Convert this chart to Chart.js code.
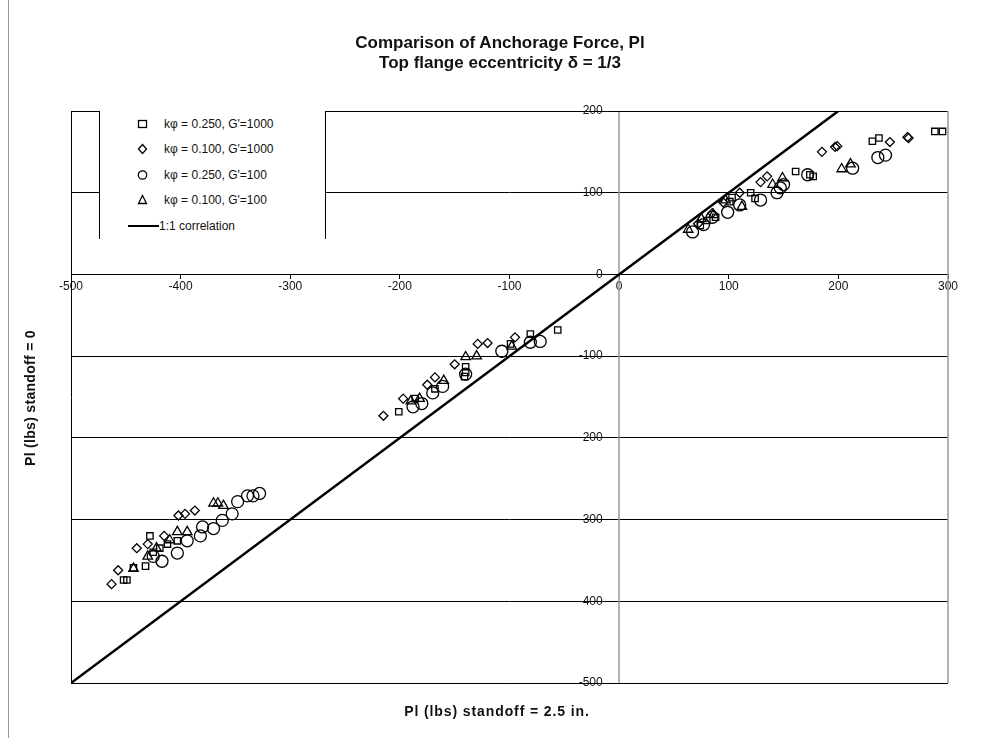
<!DOCTYPE html>
<html>
<head>
<meta charset="utf-8">
<script src="https://cdn.jsdelivr.net/npm/chart.js@4/dist/chart.umd.min.js"></script>
<style>
body{margin:0;background:#fff;font-family:"Liberation Sans",Arial,sans-serif;color:#111;}
#wrap{position:relative;width:984px;height:738px;overflow:hidden;}
#chart{position:absolute;left:0;top:0;}
#edge{position:absolute;left:8px;top:0;width:0;height:738px;border-left:1px solid #999;}
.title{position:absolute;left:250px;width:500px;text-align:center;font-weight:bold;font-size:17px;line-height:20px;}
#xTitle{position:absolute;left:297px;width:400px;top:703px;text-align:center;font-weight:bold;font-size:14px;letter-spacing:0.9px;}
#yTitle{position:absolute;left:-70px;top:390px;width:200px;text-align:center;font-weight:bold;font-size:14px;letter-spacing:0.3px;transform:rotate(-90deg);}
#legend{position:absolute;left:99px;top:111px;width:225px;height:128px;background:#fff;border-left:1px solid #000;border-right:1px solid #000;}
.item{position:absolute;left:0;height:16px;font-size:12px;white-space:nowrap;}
.item svg{position:absolute;left:34px;top:0;}
.item span{position:absolute;left:64px;top:0;line-height:16px;}
</style>
</head>
<body>
<div id="wrap">
  <div id="edge"></div>
  <canvas id="chart" width="984" height="738"></canvas>
  <div class="title" style="top:33px">Comparison of Anchorage Force, Pl</div>
  <div class="title" style="top:53px">Top flange eccentricity &delta; = 1/3</div>
  <div id="xTitle">Pl (lbs) standoff = 2.5 in.</div>
  <div id="yTitle">Pl (lbs) standoff = 0</div>
  <div id="legend"></div>
</div>
<script>
// ================== DATA ==================
const seriesNames = ["k\u03c6 = 0.250, G'=1000", "k\u03c6 = 0.100, G'=1000", "k\u03c6 = 0.250, G'=100", "k\u03c6 = 0.100, G'=100", "1:1 correlation"];

// squares: k=0.250, G'=1000
const sqX = [295, 288, 237, 231, 177, 174, 161, 124, 120, 101, 103, 88, 80, 74,
  -56, -81, -99, -140, -140, -141, -168, -186, -201,
  -452, -449, -443, -432, -419, -412, -403, -425, -428];
const sqY = [175, 175, 167, 163, 120, 122, 126, 93, 100, 89, 94, 70, 66, 60,
  -68, -73, -85, -113, -120, -125, -140, -152, -168,
  -374, -374, -359, -357, -335, -330, -326, -340, -320];

// diamonds: k=0.100, G'=1000
const dmX = [263, 264, 247, 199, 197, 185, 135, 129, 110, 95, 85, 72,
  -95, -120, -129, -150, -168, -175, -197, -215,
  -463, -457, -440, -430, -402, -396, -387, -415];
const dmY = [168, 167, 162, 157, 156, 150, 120, 113, 100, 88, 75, 62,
  -77, -84, -85, -110, -126, -135, -152, -173,
  -379, -362, -335, -330, -295, -293, -289, -320];

// circles: k=0.250, G'=100
const ciX = [243, 236, 213, 172, 150, 147, 144, 129, 110, 99, 85, 77, 67,
  -72, -81, -107, -140, -161, -170, -188, -180,
  -328, -334, -339, -348, -353, -362, -370, -380, -382, -394, -403, -417, -425];
const ciY = [146, 143, 130, 122, 110, 106, 100, 91, 85, 76, 70, 61, 52,
  -82, -83, -94, -122, -137, -145, -162, -158,
  -268, -271, -271, -278, -293, -301, -311, -309, -320, -326, -341, -351, -345];

// triangles: k=0.100, G'=100
const trX = [211, 203, 149, 140, 112, 97, 86, 75, 63,
  -98, -130, -140, -160, -182, -190,
  -361, -366, -370, -394, -403, -410, -422, -443, -430];
const trY = [135, 129, 118, 110, 83, 91, 73, 68, 55,
  -88, -100, -101, -130, -152, -155,
  -283, -280, -280, -315, -315, -325, -335, -360, -345];

// 1:1 line
const lineX = [-500, 200];
const lineY = [-500, 200];

const xTicks = [-500, -400, -300, -200, -100, 0, 100, 200, 300];
const yTicks = [200, 100, 0, -100, -200, -300, -400, -500];

// ================== HELPERS ==================
function pts(xs, ys){
  return xs.map((x, i) => ({x, y: ys[i]}));
}

const markerStyles = ['rect', 'rectRot', 'circle', 'triangle'];
const markerSizes = [4.5, 4.5, 6, 5.5];

// plot frame: black left/top/bottom, grey right, grey vertical axis at x=0
const framePlugin = {
  id: 'frame',
  beforeDatasetsDraw(c){
    const a = c.chartArea, ctx = c.ctx;
    const x0 = Math.round(c.scales.x.getPixelForValue(0));
    ctx.save();
    ctx.strokeStyle = '#999';
    ctx.lineWidth = 1.5;
    ctx.beginPath();
    ctx.moveTo(x0, a.top);
    ctx.lineTo(x0, a.bottom);
    ctx.stroke();
    ctx.restore();
  },
  afterDraw(c){
    const a = c.chartArea, ctx = c.ctx;
    ctx.save();
    ctx.lineWidth = 1;
    ctx.strokeStyle = '#000';
    ctx.beginPath();
    ctx.moveTo(a.right, a.top + 0.5);
    ctx.lineTo(a.left + 0.5, a.top + 0.5);
    ctx.lineTo(a.left + 0.5, a.bottom + 0.5);
    ctx.lineTo(a.right, a.bottom + 0.5);
    ctx.stroke();
    ctx.strokeStyle = '#999';
    ctx.lineWidth = 1.5;
    ctx.beginPath();
    ctx.moveTo(a.right, a.top);
    ctx.lineTo(a.right, a.bottom);
    ctx.stroke();
    ctx.restore();
  }
};

// ================== CHART ==================
const datasets = [
  {label: seriesNames[0], data: pts(sqX, sqY)},
  {label: seriesNames[1], data: pts(dmX, dmY)},
  {label: seriesNames[2], data: pts(ciX, ciY)},
  {label: seriesNames[3], data: pts(trX, trY)}
].map((d, i) => Object.assign(d, {
  pointStyle: markerStyles[i],
  pointRadius: markerSizes[i],
  pointBorderColor: '#000',
  pointBackgroundColor: 'rgba(255,255,255,0)',
  pointBorderWidth: 1.3,
  showLine: false
}));

datasets.push({
  label: seriesNames[4],
  data: pts(lineX, lineY),
  showLine: true,
  borderColor: '#000',
  borderWidth: 2.5,
  pointRadius: 0
});

const chart = new Chart(document.getElementById('chart'), {
  type: 'scatter',
  data: {datasets},
  options: {
    responsive: false,
    animation: false,
    layout: {padding: {left: 71, right: 36, top: 111, bottom: 55}},
    plugins: {legend: {display: false}, tooltip: {enabled: false}},
    scales: {
      x: {
        type: 'linear', min: -500, max: 300,
        position: {y: 0},
        afterFit: s => { s.height = 0; },
        afterBuildTicks: s => { s.ticks = xTicks.map(v => ({value: v})); },
        grid: {drawOnChartArea: false, color: '#000', tickLength: 4},
        border: {display: true, color: '#000', width: 1},
        ticks: {color: '#111', font: {family: 'Liberation Sans', size: 12}, padding: 1, maxRotation: 0, autoSkip: false}
      },
      y: {
        type: 'linear', min: -500, max: 200,
        // labels sit a little left of the x=0 axis line
        position: {x: -15},
        afterFit: s => { s.width = 0; },
        afterBuildTicks: s => { s.ticks = yTicks.map(v => ({value: v})); },
        grid: {color: '#000', lineWidth: 1, tickLength: 0},
        border: {display: false},
        ticks: {color: '#111', font: {family: 'Liberation Sans', size: 12}, padding: 0, autoSkip: false}
      }
    }
  },
  plugins: [framePlugin]
});

// ================== LEGEND ==================
const legendEl = document.getElementById('legend');
const rowTops = [5, 30, 56, 81, 107];
const svgMarks = [
  '<rect x="4.5" y="4.5" width="8" height="7" fill="none" stroke="#000" stroke-width="1.3"/>',
  '<path d="M8.5 3.5 L12.5 8 L8.5 12.5 L4.5 8 Z" fill="none" stroke="#000" stroke-width="1.3"/>',
  '<circle cx="8.5" cy="8" r="4.2" fill="none" stroke="#000" stroke-width="1.3"/>',
  '<path d="M8.5 3.5 L12.5 11.5 L4.5 11.5 Z" fill="none" stroke="#000" stroke-width="1.3"/>'
];
seriesNames.forEach((name, i) => {
  const div = document.createElement('div');
  div.className = 'item';
  div.style.top = rowTops[i] + 'px';
  if(i < 4){
    div.innerHTML = '<svg width="17" height="16">' + svgMarks[i] + '</svg><span>' + name + '</span>';
  } else {
    div.innerHTML = '<svg width="60" height="16" style="left:28px"><line x1="0" y1="8" x2="31" y2="8" stroke="#000" stroke-width="2"/></svg><span style="left:59px">' + name + '</span>';
  }
  legendEl.appendChild(div);
});
</script>
</body>
</html>
